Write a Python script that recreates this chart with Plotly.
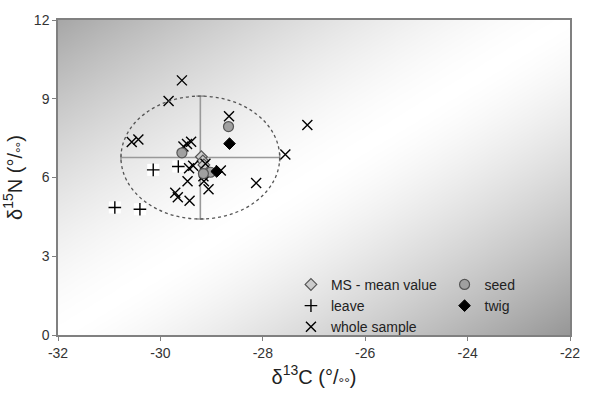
import numpy as np
import plotly.graph_objects as go

# ---- data ----
whole_x = [-29.58, -29.84, -28.66, -27.13, -30.56, -30.43, -29.55, -29.48, -29.40, -27.56,
           -29.44, -29.36, -29.12, -29.16, -28.82, -29.47, -29.15, -29.06, -28.13, -29.71,
           -29.66, -29.43]
whole_y = [9.70, 8.91, 8.33, 8.00, 7.35, 7.45, 7.18, 7.28, 7.36, 6.88,
           6.35, 6.45, 6.52, 6.05, 6.27, 5.86, 5.86, 5.55, 5.79, 5.42,
           5.25, 5.11]
leave_x = [-30.14, -29.65, -30.89, -30.40]
leave_y = [6.29, 6.42, 4.86, 4.79]
seed_x = [-28.67, -29.58, -29.02, -29.16]
seed_y = [7.94, 6.94, 6.20, 6.15]
twig_x = [-28.65, -28.90]
twig_y = [7.29, 6.23]
ms_x = [-29.20, -29.17, -29.15]
ms_y = [6.79, 6.63, 6.48]
mean_x = [-29.22]
mean_y = [6.76]
sd_x = [1.55]
sd_y = [2.34]

x_ticks = [-32, -30, -28, -26, -24, -22]
y_ticks = [0, 3, 6, 9, 12]
x_range = [-32, -22]
y_range = [0, 12]

fig = go.Figure()

# background gradient (styling only)
gx = np.linspace(x_range[0], x_range[1], 90)
gy = np.linspace(y_range[0], y_range[1], 90)
GX, GY = np.meshgrid(gx, gy)
t = (GX - x_range[0]) / (x_range[1] - x_range[0]) + (y_range[1] - GY) / (y_range[1] - y_range[0])
d = t - 1.0
gray = np.where(d < 0, 255 - 88 * np.abs(d) ** 1.5, 255 - 105 * np.abs(d) ** 1.4)
fig.add_trace(go.Heatmap(x=gx, y=gy, z=gray, zmin=0, zmax=255,
                         colorscale=[[0, 'black'], [1, 'white']], showscale=False,
                         zsmooth='best', hoverinfo='skip'))

# ellipse (mean +/- SD)
fig.add_shape(type='circle', xref='x', yref='y',
              x0=mean_x[0] - sd_x[0], x1=mean_x[0] + sd_x[0],
              y0=mean_y[0] - sd_y[0], y1=mean_y[0] + sd_y[0],
              line=dict(color='#555555', width=1.3, dash='dot'))

# mean cross (error bars)
fig.add_trace(go.Scatter(x=mean_x, y=mean_y, mode='markers', showlegend=False,
                         marker=dict(size=1, color='rgba(0,0,0,0)'),
                         error_x=dict(type='data', array=sd_x, color='#999999', thickness=1.6, width=4),
                         error_y=dict(type='data', array=sd_y, color='#999999', thickness=1.6, width=4),
                         hoverinfo='skip'))

# white boxes behind leave markers
fig.add_trace(go.Scatter(x=leave_x, y=leave_y, mode='markers', showlegend=False,
                         marker=dict(symbol='square', size=12, color='white'), hoverinfo='skip'))

fig.add_trace(go.Scatter(x=ms_x, y=ms_y, mode='markers', name='MS - mean value', legend='legend',
                         marker=dict(symbol='diamond', size=9, color='#cccccc',
                                     line=dict(color='#555555', width=1.2))))
fig.add_trace(go.Scatter(x=leave_x, y=leave_y, mode='markers', name='leave', legend='legend',
                         marker=dict(symbol='cross-thin-open', size=9, color='black',
                                     line=dict(color='black', width=1.4))))
fig.add_trace(go.Scatter(x=whole_x, y=whole_y, mode='markers', name='whole sample', legend='legend',
                         marker=dict(symbol='x-thin-open', size=10, color='black',
                                     line=dict(color='black', width=1.4))))
fig.add_trace(go.Scatter(x=seed_x, y=seed_y, mode='markers', name='seed', legend='legend2',
                         marker=dict(symbol='circle', size=10, color='#a0a0a0',
                                     line=dict(color='#555555', width=1.2))))
fig.add_trace(go.Scatter(x=twig_x, y=twig_y, mode='markers', name='twig', legend='legend2',
                         marker=dict(symbol='diamond', size=9, color='black',
                                     line=dict(color='black', width=1))))

font = dict(family='Liberation Sans, Arial, sans-serif', size=14, color='#333333')
lfont = dict(family='Liberation Sans, Arial, sans-serif', size=14, color='#222222')

fig.update_layout(
    width=592, height=397,
    margin=dict(l=58, r=12, t=20, b=55),
    paper_bgcolor='white', plot_bgcolor='white',
    font=font,
    legend=dict(x=0.455, y=0.21, xanchor='left', yanchor='top', bgcolor='rgba(0,0,0,0)',
                font=lfont, tracegroupgap=0, itemwidth=30),
    legend2=dict(x=0.755, y=0.21, xanchor='left', yanchor='top', bgcolor='rgba(0,0,0,0)',
                 font=lfont, tracegroupgap=0, itemwidth=30),
    xaxis=dict(range=x_range, tickvals=x_ticks, ticktext=[str(v) for v in x_ticks],
               showgrid=False, zeroline=False, showline=True, linecolor='#808080', linewidth=1.5,
               mirror=True, ticks='outside', ticklen=4, tickcolor='#808080',
               title=dict(text='δ<sup>13</sup>C (°/<sub>°°</sub>)', font=dict(size=20, color='#222222'),
                          standoff=10)),
    yaxis=dict(range=y_range, tickvals=y_ticks, ticktext=[str(v) for v in y_ticks],
               showgrid=False, zeroline=False, showline=True, linecolor='#808080', linewidth=1.5,
               mirror=True, ticks='outside', ticklen=4, tickcolor='#808080',
               title=dict(text='δ<sup>15</sup>N (°/<sub>°°</sub>)', font=dict(size=20, color='#222222'),
                          standoff=6)),
)

fig.write_html('out.html')
